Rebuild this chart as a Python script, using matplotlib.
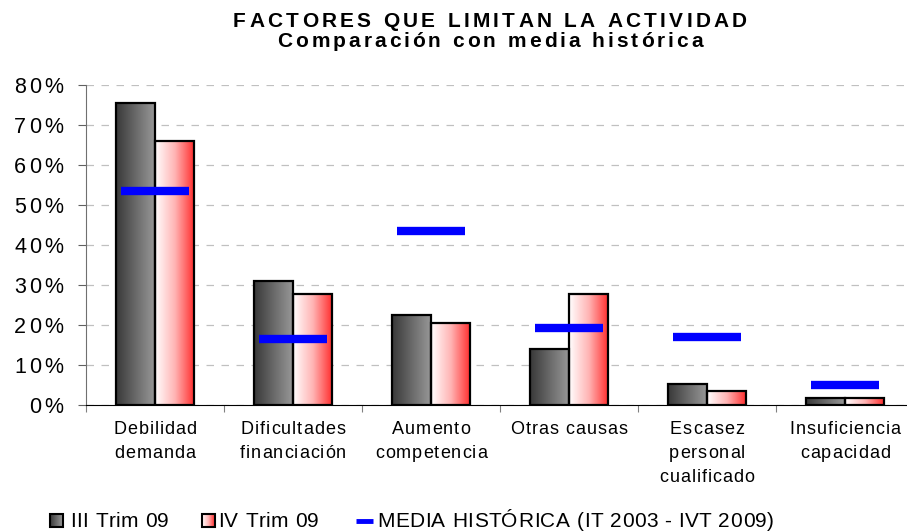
import numpy as np
import matplotlib
matplotlib.use("Agg")
import matplotlib.pyplot as plt
from matplotlib.colors import LinearSegmentedColormap
from matplotlib.patches import Rectangle
from matplotlib.font_manager import findfont, FontProperties
from matplotlib.ft2font import FT2Font

# data
categories = ["Debilidad\ndemanda", "Dificultades\nfinanciación", "Aumento\ncompetencia",
              "Otras causas", "Escasez\npersonal\ncualificado", "Insuficiencia\ncapacidad"]
trim3_09 = [75.5, 31.0, 22.5, 14.0, 5.2, 1.8]
trim4_09 = [66.0, 27.8, 20.5, 27.8, 3.5, 1.7]
media_hist = [53.5, 16.5, 43.5, 19.3, 17.0, 5.0]
yticks = [0, 10, 20, 30, 40, 50, 60, 70, 80]
legend_labels = ["III Trim 09", "IV Trim 09", "MEDIA HISTÓRICA (IT 2003 - IVT 2009)"]

FAMILY = "Liberation Sans"
plt.rcParams["font.family"] = [FAMILY, "DejaVu Sans"]

fig = plt.figure(figsize=(9.07, 5.31), dpi=100)
ax = fig.add_axes([86 / 907, 126 / 531, 828 / 907, 320 / 531])
# overlay in pixel coordinates for the letter-spaced texts and legend
ov = fig.add_axes([0, 0, 1, 1], zorder=5)
ov.set_xlim(0, 907)
ov.set_ylim(0, 531)
ov.axis("off")

_fonts = {}


def advance(c, size, weight):
    # horizontal advance of one glyph in pixels
    key = (size, weight)
    if key not in _fonts:
        f = FT2Font(findfont(FontProperties(family=FAMILY, weight=weight)))
        f.set_size(size, 100)
        _fonts[key] = f
    g = _fonts[key].load_char(ord(c))
    return g.linearHoriAdvance / 65536


def spaced_text(x, y, s, size, gap=0.0, width=None, ha="center", weight="normal",
                color="black"):
    # Excel style tracked text, x/y in pixels, y is the baseline
    adv = [advance(c, size, weight) for c in s]
    natural = sum(adv)
    if width is not None and len(s) > 1:
        gap = (width - natural) / (len(s) - 1)
    total = natural + gap * (len(s) - 1)
    if ha == "center":
        pen = x - total / 2
    elif ha == "right":
        pen = x - total
    else:
        pen = x
    for c, a in zip(s, adv):
        if c != " ":
            ov.text(pen, y, c, fontsize=size, fontweight=weight, color=color,
                    ha="left", va="baseline")
        pen += a + gap


grey_cmap = LinearSegmentedColormap.from_list("grey", ["#383838", "#6a6a6a", "#9a9a9a"])
red_cmap = LinearSegmentedColormap.from_list("red", ["#ffffff", "#ffb4b4", "#ff2a2a"])
grad = np.linspace(0, 1, 256).reshape(1, -1)

x = np.arange(len(categories))
w = 0.283

# gradient filled bars
for vals, offset, cmap in [(trim3_09, -w / 2, grey_cmap), (trim4_09, w / 2, red_cmap)]:
    bars = ax.bar(x + offset, vals, width=w, facecolor="none", edgecolor="black",
                  linewidth=1.6, zorder=3)
    for b in bars:
        x0, y0 = b.get_x(), b.get_y()
        im = ax.imshow(grad, cmap=cmap, aspect="auto", zorder=2,
                       extent=[x0, x0 + b.get_width(), y0, y0 + b.get_height()])
        im.set_clip_path(b)

# historical average markers
for xi, m in zip(x, media_hist):
    ax.plot([xi - 0.245, xi + 0.245], [m, m], color="#0000ff", linewidth=6,
            solid_capstyle="butt", zorder=4)

ax.set_xlim(-0.5, len(categories) - 0.5)
ax.set_ylim(0, 80)
ax.set_yticks(yticks)
ax.set_xticks(np.arange(-0.5, len(categories), 1))
ax.tick_params(axis="x", length=5, color="#808080", direction="out", labelbottom=False)
ax.tick_params(axis="y", length=6, color="#606060", labelleft=False)
ax.grid(axis="y", linestyle=(0, (6, 6)), color="#c0c0c0", linewidth=0.9, zorder=0)
ax.set_axisbelow(True)
for s in ["top", "right"]:
    ax.spines[s].set_visible(False)
ax.spines["left"].set_color("#707070")
ax.spines["bottom"].set_color("black")

# y tick labels
for v in yticks:
    py = ax.transData.transform((0, v))[1]
    spaced_text(63, py - 7.6, f"{v}%", 15.5, gap=2.8, ha="right")

# category labels
for xi, cat in zip(x, categories):
    px = ax.transData.transform((xi, 0))[0]
    for k, line in enumerate(cat.split("\n")):
        spaced_text(px, 97 - 24 * k, line, 13, gap=1.0)

# title
spaced_text(490, 504, "FACTORES QUE LIMITAN LA ACTIVIDAD", 15, width=514, weight="bold")
spaced_text(490, 484, "Comparación con media histórica", 15, width=425, weight="bold")

# legend
lg_y = 4
sq = 13
for sx, cmap in [(50, grey_cmap), (202, red_cmap)]:
    r = Rectangle((sx, lg_y), sq, sq, facecolor="none", edgecolor="black", linewidth=1.5)
    ov.add_patch(r)
    im = ov.imshow(grad, cmap=cmap, aspect="auto", extent=[sx, sx + sq, lg_y, lg_y + sq])
    im.set_clip_path(r)
ov.plot([356, 373], [lg_y + 6.5, lg_y + 6.5], color="#0000ff", linewidth=3.5,
        solid_capstyle="butt")
for tx, lab in zip([70, 218, 377], legend_labels):
    spaced_text(tx, lg_y, lab, 15, gap=0.5, ha="left")

fig.savefig("out.png", dpi=100)
